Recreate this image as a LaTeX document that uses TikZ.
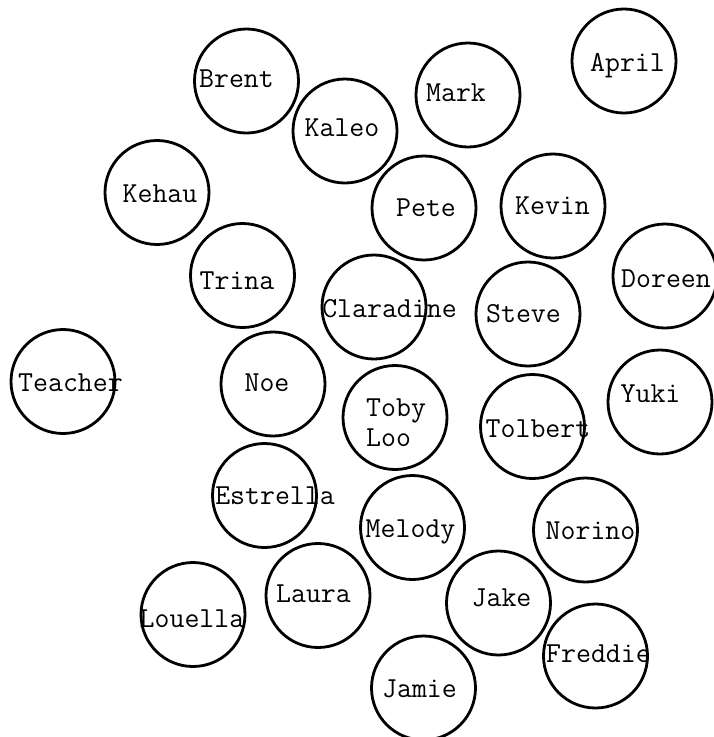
\documentclass[tikz,border=0pt]{standalone}
\usepackage{fontspec}
\begin{document}
\begin{tikzpicture}[x=1pt,y=-1pt,
  seat/.style={circle,draw=black,line width=2.8pt,minimum size=104pt,inner sep=0pt},
  who/.style={anchor=base,inner sep=0pt,font=\ttfamily\fontsize{29}{34}\selectfont}]
\useasboundingbox (0,0) rectangle (713,737);
% circles
\node[seat] (brent) at (246.5,81) {};
\node[seat] (kaleo) at (345,131) {};
\node[seat] (mark) at (468,95) {};
\node[seat] (april) at (624,61) {};
\node[seat] (kehau) at (157,192.5) {};
\node[seat] (pete) at (424,208) {};
\node[seat] (kevin) at (553,206) {};
\node[seat] (trina) at (242.5,275.5) {};
\node[seat] (claradine) at (374,307) {};
\node[seat] (steve) at (528,314) {};
\node[seat] (doreen) at (665,276) {};
\node[seat] (teacher) at (63,381.5) {};
\node[seat] (noe) at (273,384) {};
\node[seat] (toby) at (395,417.5) {};
\node[seat] (tolbert) at (532.5,426.5) {};
\node[seat] (yuki) at (660,402) {};
\node[seat] (estrella) at (264.5,495.5) {};
\node[seat] (melody) at (412.5,527.5) {};
\node[seat] (norino) at (585.5,530) {};
\node[seat] (laura) at (318,595.5) {};
\node[seat] (louella) at (193,614.5) {};
\node[seat] (jake) at (498.5,603) {};
\node[seat] (freddie) at (595.5,656) {};
\node[seat] (jamie) at (423.5,688) {};
% names
\node[who] (tbrent) at (236.5,87) {Brent};
\node[who] (tkaleo) at (342,136) {Kaleo};
\node[who] (tmark) at (456,101) {Mark};
\node[who] (tapril) at (627.5,71) {April};
\node[who] (tkehau) at (160,202) {Kehau};
\node[who] (tpete) at (426,216) {Pete};
\node[who] (tkevin) at (552.5,214) {Kevin};
\node[who] (ttrina) at (237,289) {Trina};
\node[who] (tclaradine) at (389.5,317) {Claradine};
\node[who] (tsteve) at (523.5,322) {Steve};
\node[who] (tdoreen) at (666,287) {Doreen};
\node[who] (tteacher) at (70.5,391) {Teacher};
\node[who] (tnoe) at (267,391) {Noe};
\node[who,anchor=base west] (ttoby) at (366,416) {Toby};
\node[who,anchor=base west] (tloo) at (366,446) {Loo};
\node[who] (ttolbert) at (538,437) {Tolbert};
\node[who] (tyuki) at (650.5,402) {Yuki};
\node[who] (testrella) at (275,504) {Estrella};
\node[who] (tmelody) at (410.5,537) {Melody};
\node[who] (tnorino) at (590.5,539) {Norino};
\node[who] (tlaura) at (313.5,602) {Laura};
\node[who] (tlouella) at (192,627) {Louella};
\node[who] (tjake) at (501.5,606) {Jake};
\node[who] (tfreddie) at (598.5,662) {Freddie};
\node[who] (tjamie) at (419.5,697) {Jamie};
\end{tikzpicture}
\end{document}
